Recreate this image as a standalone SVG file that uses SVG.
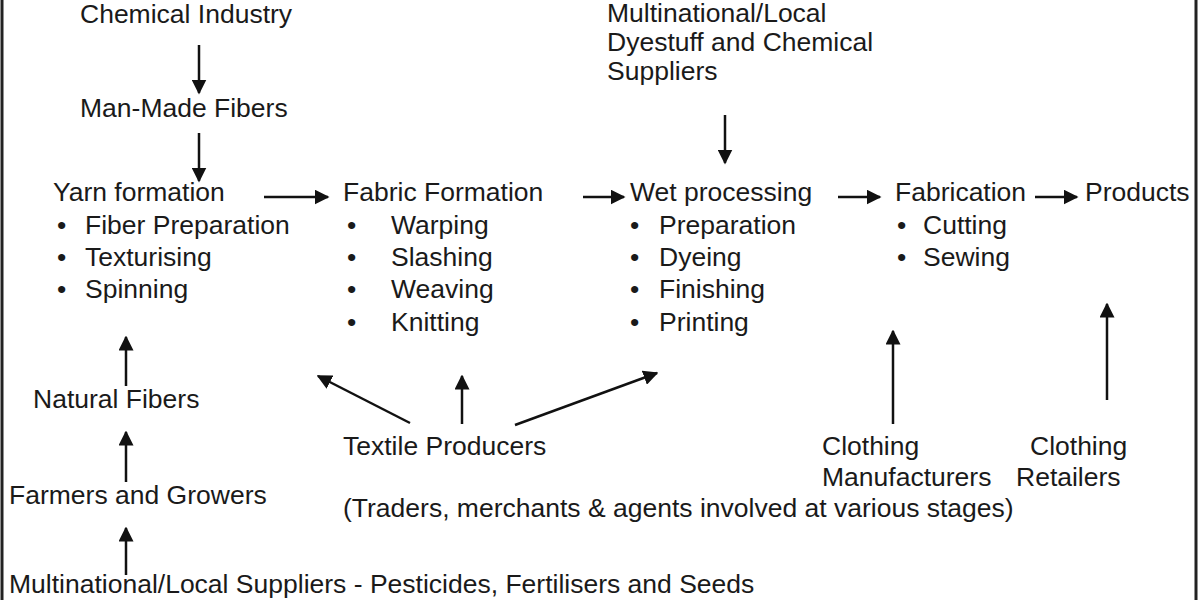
<svg xmlns="http://www.w3.org/2000/svg" width="1200" height="600" viewBox="0 0 1200 600">
<defs>
<style>
text{font-family:"Liberation Sans",Arial,sans-serif;font-size:26.5px;fill:#1a1a1a}
.ln{stroke:#111;stroke-width:2.5;fill:none}
</style>
<marker id="ah" viewBox="0 0 10 10" refX="9" refY="5" markerWidth="6" markerHeight="6" orient="auto" markerUnits="strokeWidth"><path d="M0,0 L10,5 L0,10 z" fill="#111"/></marker>
</defs>
<rect width="1200" height="600" fill="#fff"/>
<line x1="2" y1="0" x2="2" y2="600" stroke="#222" stroke-width="3"/>
<line x1="1196" y1="0" x2="1196" y2="600" stroke="#222" stroke-width="3"/>
<g id="chem"><text x="80" y="23">Chemical Industry</text></g>
<g id="manmade"><text x="80" y="117">Man-Made Fibers</text></g>
<g id="yarn"><text x="53" y="201">Yarn formation</text>
<text x="57" y="234">•</text><text x="85" y="234">Fiber Preparation</text>
<text x="57" y="266">•</text><text x="85" y="266">Texturising</text>
<text x="57" y="298">•</text><text x="85" y="298">Spinning</text></g>
<g id="fabric"><text x="343" y="201">Fabric Formation</text>
<text x="347" y="234">•</text><text x="391" y="234">Warping</text>
<text x="347" y="266">•</text><text x="391" y="266">Slashing</text>
<text x="347" y="298">•</text><text x="391" y="298">Weaving</text>
<text x="347" y="331">•</text><text x="391" y="331">Knitting</text></g>
<g id="wet"><text x="630" y="201">Wet processing</text>
<text x="630" y="234">•</text><text x="659" y="234">Preparation</text>
<text x="630" y="266">•</text><text x="659" y="266">Dyeing</text>
<text x="630" y="298">•</text><text x="659" y="298">Finishing</text>
<text x="630" y="331">•</text><text x="659" y="331">Printing</text></g>
<g id="fabrication"><text x="895" y="201">Fabrication</text>
<text x="897" y="234">•</text><text x="923" y="234">Cutting</text>
<text x="897" y="266">•</text><text x="923" y="266">Sewing</text></g>
<g id="products"><text x="1085" y="201">Products</text></g>
<g id="dyesupp"><text x="607" y="22">Multinational/Local</text><text x="607" y="51">Dyestuff and Chemical</text><text x="607" y="80">Suppliers</text></g>
<g id="natural"><text x="33" y="408">Natural Fibers</text></g>
<g id="farmers"><text x="9" y="504">Farmers and Growers</text></g>
<g id="suppliers"><text x="9" y="593">Multinational/Local Suppliers - Pesticides, Fertilisers and Seeds</text></g>
<g id="textile"><text x="343" y="455">Textile Producers</text></g>
<g id="traders"><text x="343" y="517">(Traders, merchants &amp; agents involved at various stages)</text></g>
<g id="clothman"><text x="822" y="455">Clothing</text><text x="822" y="486">Manufacturers</text></g>
<g id="clothret"><text x="1030" y="455">Clothing</text><text x="1016" y="486">Retailers</text></g>
<g id="connectors" class="ln" marker-end="url(#ah)">
<line x1="199" y1="45" x2="199" y2="93"/>
<line x1="199" y1="133" x2="199" y2="181"/>
<line x1="264" y1="197" x2="328" y2="197"/>
<line x1="583" y1="197" x2="624" y2="197"/>
<line x1="838" y1="197" x2="880" y2="197"/>
<line x1="1035" y1="197" x2="1077" y2="197"/>
<line x1="725" y1="115" x2="725" y2="163"/>
<line x1="126" y1="386" x2="126" y2="337"/>
<line x1="126" y1="482" x2="126" y2="432"/>
<line x1="126" y1="575" x2="126" y2="528"/>
<line x1="462" y1="424" x2="462" y2="376"/>
<line x1="410" y1="423" x2="318" y2="376"/>
<line x1="515" y1="425" x2="657" y2="373"/>
<line x1="893" y1="424" x2="893" y2="331"/>
<line x1="1107" y1="400" x2="1107" y2="304"/>
</g>
</svg>
